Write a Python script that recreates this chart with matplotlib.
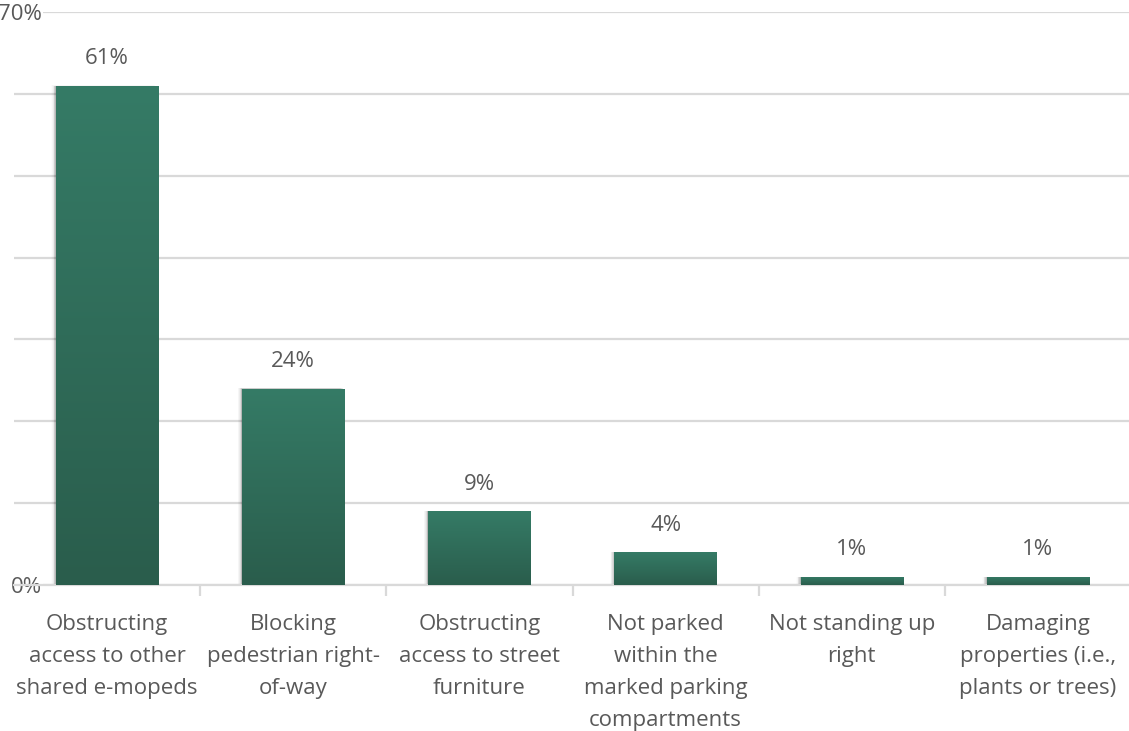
import numpy as np
import matplotlib.pyplot as plt
from matplotlib.colors import LinearSegmentedColormap
from matplotlib.patches import Rectangle

# Problem categories and share of reports
categories = [
    "Obstructing\naccess to other\nshared e-mopeds",
    "Blocking\npedestrian right-\nof-way",
    "Obstructing\naccess to street\nfurniture",
    "Not parked\nwithin the\nmarked parking\ncompartments",
    "Not standing up\nright",
    "Damaging\nproperties (i.e.,\nplants or trees)",
]
shares = [61, 24, 9, 4, 1, 1]
value_labels = ["61%", "24%", "9%", "4%", "1%", "1%"]

TEXT = "#595959"
GRID = "#d9d9d9"
FONT = ["Open Sans", "DejaVu Sans"]

W, H = 1129, 731
fig = plt.figure(figsize=(W / 100, H / 100), dpi=100)
ax = fig.add_axes([14 / W, (H - 585) / H, 1117 / W, 573 / H])

x = np.arange(len(categories))
bw = 0.55
bars = ax.bar(x, shares, width=bw, color="#2f6b58", zorder=3)

# vertical gradient inside each bar + soft shadow on the left
cmap = LinearSegmentedColormap.from_list("g", ["#2a5d4c", "#357b66"])
grad = np.linspace(0, 1, 256).reshape(-1, 1)
for b in bars:
    x0, w, h = b.get_x(), b.get_width(), b.get_height()
    for i, a in enumerate([0.10, 0.08, 0.06, 0.04, 0.025, 0.012]):
        dx = 0.004 * (i + 1)
        ax.add_patch(Rectangle((x0 - dx, 0), w, h + 0.005 * (i + 1),
                               facecolor="#000000", alpha=a, lw=0, zorder=2))
    im = ax.imshow(grad, cmap=cmap, aspect="auto", origin="lower",
                   extent=(x0, x0 + w, 0, h), zorder=3.5)
    im.set_clip_path(b)

for xi, v, lab in zip(x, shares, value_labels):
    ax.text(xi, v + 2.0, lab, ha="center", va="bottom", fontsize=16,
            color=TEXT, family=FONT)

ax.set_xlim(-0.5, len(categories) - 0.5)
ax.set_ylim(0, 70)

ax.set_yticks(np.arange(0, 71, 10))
ax.set_yticklabels(["0%", "", "", "", "", "", "", "70%"])
ax.yaxis.grid(True, color=GRID, lw=1.6, zorder=0)
ax.tick_params(axis="y", length=0, pad=-20, labelsize=16, labelcolor=TEXT)
for t in ax.get_yticklabels():
    t.set_family(FONT)
    t.set_bbox(dict(facecolor="white", edgecolor="none", pad=1))
    t.set_zorder(5)

ax.set_xticks(x)
ax.set_xticklabels(categories, fontsize=16, color=TEXT, family=FONT,
                   linespacing=1.68)
ax.tick_params(axis="x", length=0, pad=21)
ax.set_xticks(np.arange(0.5, len(categories) - 1, 1), minor=True)
ax.tick_params(axis="x", which="minor", length=8, width=1.6, color=GRID)

for s in ["top", "right", "left"]:
    ax.spines[s].set_visible(False)
ax.spines["bottom"].set_color(GRID)
ax.spines["bottom"].set_linewidth(1.6)
ax.set_axisbelow(True)

fig.savefig("out.png", dpi=100, facecolor="white")
